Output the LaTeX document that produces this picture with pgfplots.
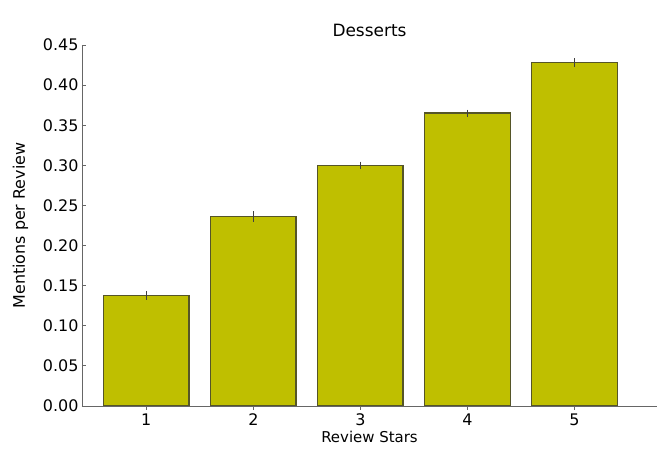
\documentclass[border=0pt]{standalone}
\usepackage{pgfplots}
\pgfplotsset{compat=1.18}
\usepackage{fontspec}
\setmainfont{DejaVu Sans}
\definecolor{baryel}{RGB}{191,191,0}
\definecolor{baredge}{RGB}{85,85,40}
\begin{document}
\begin{tikzpicture}
\begin{axis}[
  scale only axis, width=575bp, height=361bp,
  at={(0,0)}, anchor=south west,
  xmin=0.4, xmax=5.77, ymin=0, ymax=0.45,
  axis x line*=bottom, axis y line*=left,
  axis line style={black!60, line width=1pt},
  xtick={1,2,3,4,5},
  ytick={0,0.05,0.10,0.15,0.20,0.25,0.30,0.35,0.40,0.45},
  yticklabel style={/pgf/number format/.cd, fixed, fixed zerofill, precision=2},
  /pgf/number format/assume math mode=true,
  tick align=inside, major tick length=4bp,
  tick style={black!60, line width=0.8pt},
  font=\fontsize{16}{18}\selectfont,
  title={Desserts},
  title style={font=\fontsize{17}{19}\selectfont, yshift=-1bp},
  xlabel={Review Stars}, ylabel={Mentions per Review},
  xlabel style={at={(axis description cs:0.5,0)}, anchor=north, yshift=-22bp, font=\fontsize{15}{17}\selectfont},
  ylabel style={yshift=8bp},
  ybar, bar width=0.8,
]
\addplot[fill=baryel, draw=baredge, line width=1.5pt,
  error bars/.cd, y dir=both, y explicit,
  error bar style={black!75, line width=1.2pt}, error mark options={black!75, mark size=2bp, line width=1pt}]
  coordinates {
  (1,0.138) +- (0,0.003)
  (2,0.236) +- (0,0.004)
  (3,0.300) +- (0,0.002)
  (4,0.365) +- (0,0.002)
  (5,0.428) +- (0,0.003)
  };
\end{axis}
\pgfresetboundingbox
\path (-82bp,-46bp) rectangle (575bp,406bp);
\end{tikzpicture}
\end{document}
